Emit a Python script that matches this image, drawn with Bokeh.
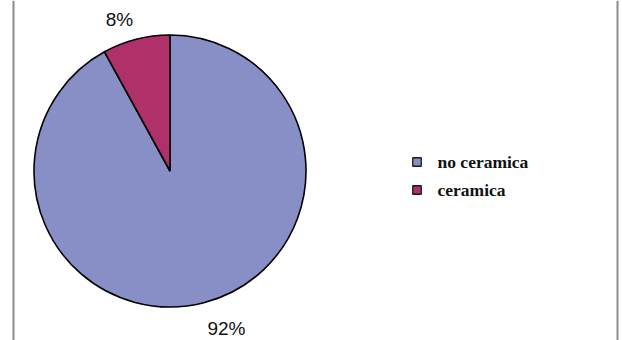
import math

from bokeh.core.properties import value
from bokeh.embed import file_html
from bokeh.models import Range1d
from bokeh.plotting import figure
from bokeh.resources import INLINE

# Pie data
categories = ["no ceramica", "ceramica"]
shares = [92, 8]
pct_labels = ["92%", "8%"]
colors = ["#888FC7", "#B0306A"]

W, H = 622, 340

p = figure(
    width=W,
    height=H,
    x_range=Range1d(0, W),
    y_range=Range1d(0, H),
    output_backend="svg",
    toolbar_location=None,
    min_border=0,
)
p.axis.visible = False
p.grid.visible = False
p.outline_line_color = None
p.background_fill_color = "white"
p.border_fill_color = "white"

# Frame edges of the chart area
p.segment(x0=[13, 617], y0=[0, 0], x1=[13, 617], y1=[H, H],
          line_color="#8c8c8c", line_width=2)

# Slices run clockwise from 12 o'clock
cx, cy, r = 169.5, 169.5, 136
total = float(sum(shares))
starts, ends = [], []
ang = math.pi / 2
for s in shares:
    sweep = 2 * math.pi * s / total
    starts.append(ang - sweep)
    ends.append(ang)
    ang -= sweep

p.wedge(x=[cx] * len(shares), y=[cy] * len(shares), radius=r,
        start_angle=starts, end_angle=ends,
        fill_color=colors, line_color="black", line_width=1.6)

# Percentage labels outside the pie
label_pos = {"92%": (226, 340 - 328), "8%": (119, 340 - 19)}
lx = [label_pos[t][0] for t in pct_labels]
ly = [label_pos[t][1] for t in pct_labels]
p.text(x=lx, y=ly, text=pct_labels, text_align="center",
       text_baseline="middle", text_font=value("Liberation Sans"),
       text_font_size="19px", text_color="#111111")

# Legend
leg_x = 416.5
leg_y = [340 - 161.5, 340 - 189.5]
p.rect(x=[leg_x] * len(categories), y=leg_y, width=8.5, height=8.5,
       fill_color=colors, line_color="#1a1a1a", line_width=1.3)
p.text(x=[437] * len(categories), y=leg_y, text=categories,
       text_align="left", text_baseline="middle",
       text_font=value("Liberation Serif"), text_font_style="bold",
       text_font_size="17.5px", text_color="#111111")

open("out.html", "w").write(file_html(p, INLINE))
